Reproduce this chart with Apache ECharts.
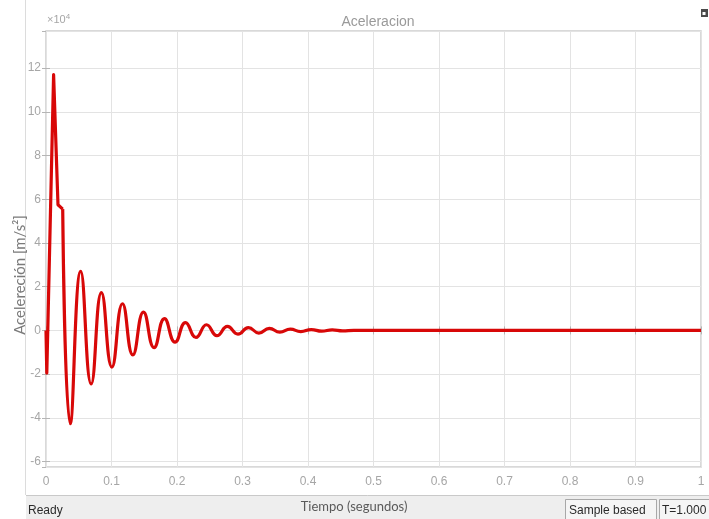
<!DOCTYPE html>
<html lang="es">
<head>
<meta charset="UTF-8" />
<title>Aceleracion</title>
<script src="https://cdn.jsdelivr.net/npm/echarts@6/dist/echarts.min.js"></script>
<style>
  html, body { margin: 0; padding: 0; background: #ffffff; }
  #main { width: 709px; height: 519px; }
</style>
</head>
<body>
<div id="main"></div>
<script type="text/javascript">
// tiempo (s) y aceleracion (m/s^2), leidos de la grafica del scope
// tramo inicial: pico brusco, sin suavizado
var tTransitorio = [0, 0.0012, 0.0116, 0.0183, 0.0255];
var aTransitorio = [0, -19500, 117000, 57500, 55500];

// oscilacion amortiguada: maximos y minimos
var tOscila = [0.0255, 0.037, 0.053, 0.069, 0.0846, 0.1006, 0.1168, 0.1326, 0.1488, 0.165,
  0.1808, 0.197, 0.213, 0.229, 0.245, 0.261, 0.277, 0.293, 0.309, 0.325,
  0.341, 0.357, 0.373, 0.389, 0.405, 0.421, 0.437, 0.453, 0.47, 0.5, 1.0];
var aOscila = [55500, -42700, 27000, -24500, 17300, -16800, 12200, -11200, 8400, -7900,
  5400, -5400, 3600, -3200, 2600, -2400, 1800, -1700, 1300, -1200,
  900, -800, 600, -550, 400, -350, 250, -200, 0, 0, 0];

// ejes
var xMin = 0, xMax = 1, xPaso = 0.1;
var yMin = -62500, yMax = 137000, yPaso = 20000;

function pares(t, a) {
  return t.map(function (v, i) { return [v, a[i]]; });
}

var chartDom = document.getElementById('main');
var myChart = echarts.init(chartDom);
var option;

var gris = '#a6a6a6';
var ejeY = {
  type: 'value',
  min: yMin,
  max: yMax,
  splitNumber: 10,
  axisLine: { show: false },
  axisTick: { show: true, inside: true, length: 4, lineStyle: { color: '#b5b5b5' } },
  axisLabel: {
    color: gris, fontSize: 12, margin: 5, fontFamily: 'Liberation Sans',
    showMinLabel: false, showMaxLabel: false,
    formatter: function (v) {
      if (Math.abs(v % yPaso) > 1) return '';
      return String(v / 10000);
    }
  },
  splitLine: { show: true, lineStyle: { color: '#e3e3e3' } }
};

option = {
  backgroundColor: '#ffffff',
  animation: false,
  title: {
    text: 'Aceleracion',
    left: 373,
    top: 10,
    textAlign: 'center',
    textStyle: { color: '#9a9a9a', fontSize: 14, fontWeight: 'normal', fontFamily: 'Liberation Sans' }
  },
  grid: {
    left: 46, right: 8, top: 31, bottom: 52,
    show: true, borderColor: '#cdcdcd', borderWidth: 1.5, backgroundColor: '#ffffff'
  },
  xAxis: [{
    type: 'value',
    min: xMin, max: xMax, interval: xPaso,
    axisLine: { show: false },
    axisTick: { show: true, inside: true, length: 4, lineStyle: { color: '#b5b5b5' } },
    axisLabel: { color: gris, fontSize: 12, margin: 9, fontFamily: 'Liberation Sans' },
    splitLine: { show: true, lineStyle: { color: '#e3e3e3' } }
  }, {
    type: 'value', position: 'top',
    min: xMin, max: xMax, interval: xPaso,
    axisLine: { show: false },
    axisTick: { show: true, inside: true, length: 4, lineStyle: { color: '#b5b5b5' } },
    axisLabel: { show: false },
    splitLine: { show: false }
  }],
  yAxis: [ejeY, echarts.util.merge(echarts.util.clone(ejeY), {
    position: 'right',
    axisLabel: { show: false },
    splitLine: { show: false }
  }, true)],
  series: [
    {
      name: 'Transitorio',
      type: 'line',
      data: pares(tTransitorio, aTransitorio),
      showSymbol: false,
      smooth: false,
      lineStyle: { color: '#d80808', width: 3.2, join: 'round' },
      itemStyle: { color: '#d80808' }
    },
    {
      name: 'Aceleracion',
      type: 'line',
      data: pares(tOscila, aOscila),
      showSymbol: false,
      smooth: 0.5,
      lineStyle: { color: '#d80808', width: 3.2 },
      itemStyle: { color: '#d80808' }
    }
  ],
  graphic: [
    // borde de la ventana
    { type: 'line', shape: { x1: 25.5, y1: 0, x2: 25.5, y2: 495 }, style: { stroke: '#dcdcdc', lineWidth: 1 } },
    // icono
    { type: 'rect', shape: { x: 701, y: 9, width: 7, height: 8 }, style: { fill: '#4a4a4a' } },
    { type: 'rect', shape: { x: 702.5, y: 12, width: 3, height: 3 }, style: { fill: '#ffffff' } },
    // factor de escala
    {
      type: 'text', x: 47, y: 20,
      style: {
        text: '×10{s|4}', fill: gris, font: '11px "Liberation Sans"', verticalAlign: 'middle',
        rich: { s: { fontSize: 8, verticalAlign: 'top', fill: gris, padding: [0, 0, 6, 0] } }
      }
    },
    // nombre del eje Y
    {
      type: 'text', x: 20, y: 275, rotation: Math.PI / 2,
      style: { text: 'Acelereción [m/s²]', fill: '#7a7a7a', font: '15px Lato', align: 'center', verticalAlign: 'middle' }
    },
    // barra de estado
    { type: 'rect', shape: { x: 26, y: 495, width: 683, height: 24 }, style: { fill: '#eeeeee' } },
    { type: 'line', shape: { x1: 26, y1: 495.5, x2: 709, y2: 495.5 }, style: { stroke: '#c9c9c9', lineWidth: 1 } },
    {
      type: 'text', x: 28, y: 511,
      style: { text: 'Ready', fill: '#2a2a2a', font: '12px "Liberation Sans"', verticalAlign: 'middle' }
    },
    {
      type: 'text', x: 354, y: 507,
      style: { text: 'Tiempo (segundos)', fill: '#5a5a5a', font: '13px Lato', align: 'center', verticalAlign: 'middle' }
    },
    { type: 'rect', shape: { x: 565.5, y: 499.5, width: 91, height: 21 }, style: { fill: '#f5f5f5', stroke: '#a8a8a8', lineWidth: 1 } },
    {
      type: 'text', x: 569, y: 511,
      style: { text: 'Sample based', fill: '#2a2a2a', font: '12px "Liberation Sans"', verticalAlign: 'middle' }
    },
    { type: 'rect', shape: { x: 659.5, y: 499.5, width: 52, height: 21 }, style: { fill: '#f5f5f5', stroke: '#a8a8a8', lineWidth: 1 } },
    {
      type: 'text', x: 662, y: 511,
      style: { text: 'T=1.000', fill: '#2a2a2a', font: '12px "Liberation Sans"', verticalAlign: 'middle' }
    }
  ]
};

option && myChart.setOption(option);
</script>
</body>
</html>
